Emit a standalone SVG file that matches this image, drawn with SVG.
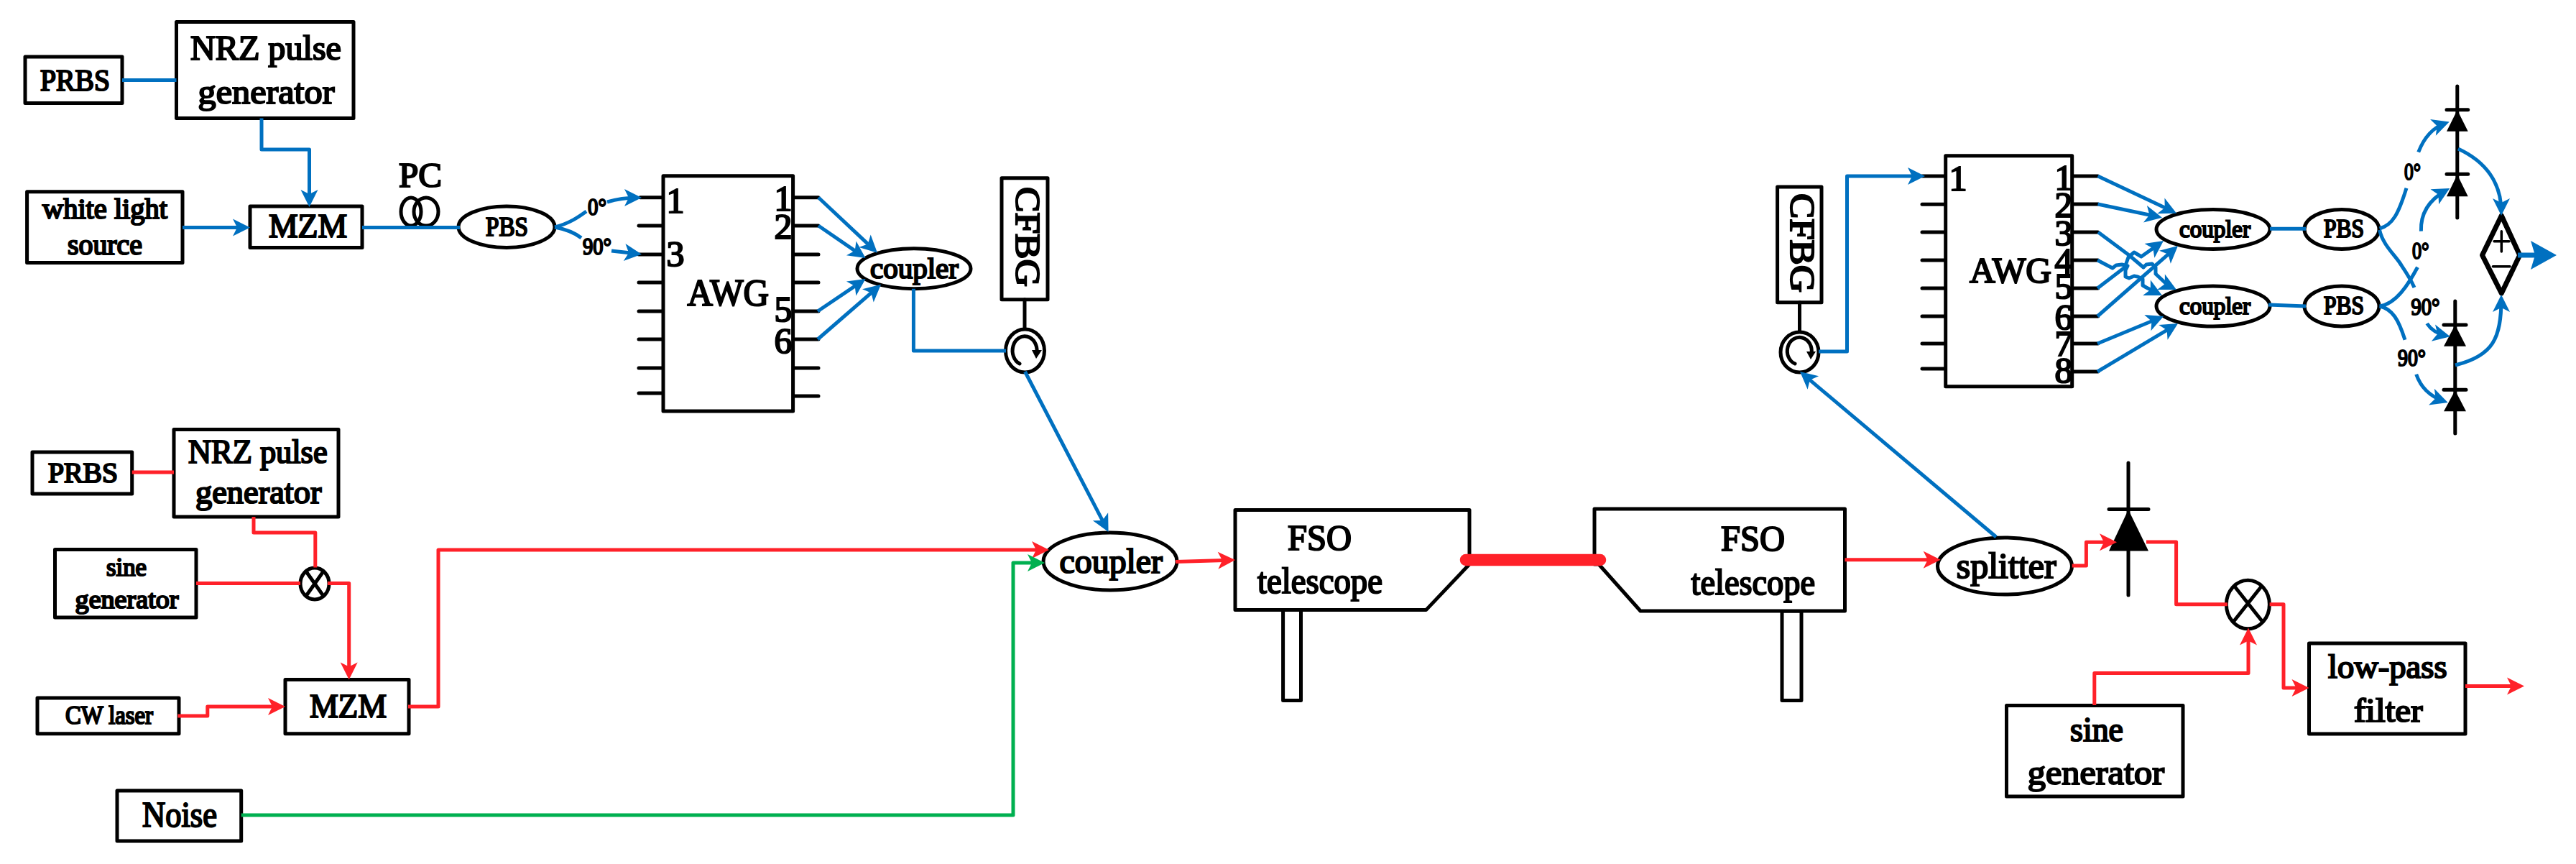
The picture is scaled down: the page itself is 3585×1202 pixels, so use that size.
<svg xmlns="http://www.w3.org/2000/svg" width="3585" height="1202" viewBox="0 0 3585 1202">
<style>
text{font-family:"Liberation Serif","Times New Roman",serif;font-weight:normal;fill:#000;stroke:#000;stroke-width:2.2}
.b{fill:#fff;stroke:#000;stroke-width:5;stroke-linejoin:round}
.k{fill:none;stroke:#000;stroke-width:5;stroke-linecap:round}
.f{fill:#000;stroke:none}
.cb,.cr,.cg{fill:none;stroke-width:5;stroke-linejoin:round}
.cb{stroke:#0070c0}.cr{stroke:#ff2129}.cg{stroke:#00b050}
.ab{marker-end:url(#ab)}.ar{marker-end:url(#ar)}.ag{marker-end:url(#ag)}
</style>
<defs>
<marker id="ab" markerUnits="userSpaceOnUse" markerWidth="30" markerHeight="30" refX="18" refY="12" orient="auto" overflow="visible"><path d="M0,0L24,12L0,24L6,12Z" fill="#0070c0"/></marker>
<marker id="ar" markerUnits="userSpaceOnUse" markerWidth="30" markerHeight="30" refX="18" refY="12" orient="auto" overflow="visible"><path d="M0,0L24,12L0,24L6,12Z" fill="#ff2129"/></marker>
<marker id="ag" markerUnits="userSpaceOnUse" markerWidth="30" markerHeight="30" refX="18" refY="12" orient="auto" overflow="visible"><path d="M0,0L24,12L0,24L6,12Z" fill="#00b050"/></marker>
<marker id="abig" markerUnits="userSpaceOnUse" markerWidth="44" markerHeight="44" refX="6" refY="20" orient="auto" overflow="visible"><path d="M0,0L36,20L0,40L6,20Z" fill="#0070c0"/></marker>
</defs>
<rect width="3585" height="1202" fill="#fff"/>

<g id="prbs1"><rect class="b" x="35" y="79" width="135" height="64.500"/><text x="56" y="126" font-size="42" textLength="97" lengthAdjust="spacingAndGlyphs">PRBS</text></g>
<g id="nrz1"><rect class="b" x="245.500" y="30.600" width="246.500" height="134"/><text x="265" y="83.400" font-size="49" textLength="210" lengthAdjust="spacingAndGlyphs">NRZ pulse</text><text x="275.500" y="143.500" font-size="49" textLength="190" lengthAdjust="spacingAndGlyphs">generator</text></g>
<g id="white"><rect class="b" x="37.600" y="266.700" width="216.400" height="98.800"/><text x="59" y="304" font-size="40" textLength="174" lengthAdjust="spacingAndGlyphs">white light</text><text x="94" y="354" font-size="40" textLength="104" lengthAdjust="spacingAndGlyphs">source</text></g>
<g id="mzm1"><rect class="b" x="348" y="287" width="156" height="57.400"/><text x="374" y="330" font-size="46" textLength="109" lengthAdjust="spacingAndGlyphs">MZM</text></g>
<g id="pc"><text x="555" y="260" font-size="49" textLength="60" lengthAdjust="spacingAndGlyphs">PC</text><ellipse class="k" cx="572" cy="294.500" rx="14" ry="19.500"/><ellipse class="k" cx="593" cy="294.500" rx="17" ry="19.500"/></g>
<g id="pbs0"><ellipse class="b" cx="705" cy="315.700" rx="67" ry="28.700"/><text x="676" y="328" font-size="37" textLength="59" lengthAdjust="spacingAndGlyphs">PBS</text></g>
<g id="lab0"><text x="818" y="298.500" font-size="34" textLength="26" lengthAdjust="spacingAndGlyphs">0°</text><text x="811" y="354" font-size="34" textLength="40" lengthAdjust="spacingAndGlyphs">90°</text></g>
<g id="awg1">
<path class="k" d="M891,274.700H923M889,314H923M889,354H923M889,393H923M889,433H923M889,472H923M889,512H923M889,547H923M1103.600,274.700H1139M1103.600,314H1139M1103.600,354H1139M1103.600,393H1139M1103.600,433H1139M1103.600,472H1139M1103.600,512H1139M1103.600,551H1139"/>
<rect class="b" x="923" y="244.700" width="180.600" height="327.300"/>
<text x="940" y="296" font-size="50" text-anchor="middle">1</text><text x="940" y="370" font-size="50" text-anchor="middle">3</text>
<text x="1090" y="293" font-size="50" text-anchor="middle">1</text><text x="1090" y="332" font-size="50" text-anchor="middle">2</text><text x="1090" y="447" font-size="50" text-anchor="middle">5</text><text x="1090" y="491" font-size="50" text-anchor="middle">6</text>
<text x="956.600" y="425" font-size="52" textLength="113.400" lengthAdjust="spacingAndGlyphs">AWG</text></g>
<g id="coupler1"><ellipse class="b" cx="1272" cy="373.700" rx="79" ry="28"/><text x="1211" y="387" font-size="40" textLength="123" lengthAdjust="spacingAndGlyphs">coupler</text></g>
<g id="cfbg1"><rect class="b" x="1394" y="247.700" width="64" height="169"/><text transform="translate(1413.800,260) rotate(90)" font-size="48" textLength="139" lengthAdjust="spacingAndGlyphs">CFBG</text><path class="k" d="M1426,416.700V458"/></g>
<g id="circ1"><ellipse class="b" cx="1426.500" cy="488" rx="27" ry="30"/><path class="k" d="M1419,506A17,20 0 1 1 1443,490"/><path class="f" d="M1436,487H1450L1442,499Z"/></g>

<g id="prbs2"><rect class="b" x="45" y="629" width="138.700" height="58"/><text x="67" y="671" font-size="39" textLength="97" lengthAdjust="spacingAndGlyphs">PRBS</text></g>
<g id="nrz2"><rect class="b" x="242" y="597.400" width="229" height="121.600"/><text x="262" y="644" font-size="46" textLength="193.600" lengthAdjust="spacingAndGlyphs">NRZ pulse</text><text x="272" y="699.800" font-size="46" textLength="175.400" lengthAdjust="spacingAndGlyphs">generator</text></g>
<g id="sine1"><rect class="b" x="76.500" y="764.600" width="196.500" height="94.400"/><text x="148" y="800.500" font-size="36" textLength="56" lengthAdjust="spacingAndGlyphs">sine</text><text x="104.600" y="846" font-size="36" textLength="143.900" lengthAdjust="spacingAndGlyphs">generator</text></g>
<g id="mixer1"><ellipse class="b" cx="438" cy="812" rx="20" ry="22"/><path class="k" d="M426,795L450,829M450,795L426,829"/></g>
<g id="cw"><rect class="b" x="52" y="971" width="197" height="49.700"/><text x="91" y="1007" font-size="35" textLength="122" lengthAdjust="spacingAndGlyphs">CW laser</text></g>
<g id="mzm2"><rect class="b" x="397" y="945.600" width="172" height="75.100"/><text x="431" y="998" font-size="47" textLength="107" lengthAdjust="spacingAndGlyphs">MZM</text></g>
<g id="noise"><rect class="b" x="163" y="1100" width="172.700" height="70"/><text x="198" y="1150" font-size="50" textLength="104" lengthAdjust="spacingAndGlyphs">Noise</text></g>
<g id="coupler2"><ellipse class="b" cx="1545" cy="781" rx="93" ry="40"/><text x="1474.600" y="797.400" font-size="48" textLength="143.400" lengthAdjust="spacingAndGlyphs">coupler</text></g>
<g id="tel1"><rect class="b" x="1785.600" y="848" width="24.900" height="126.600"/><path class="b" d="M1719,709.600H2045V785L1984.600,848.600H1719Z"/><text x="1792" y="764.700" font-size="51" textLength="89" lengthAdjust="spacingAndGlyphs">FSO</text><text x="1750" y="825" font-size="51" textLength="174" lengthAdjust="spacingAndGlyphs">telescope</text></g>
<g id="tel2"><rect class="b" x="2480" y="850" width="27" height="124.600"/><path class="b" d="M2219,708H2567.500V850H2283L2225,785H2219Z"/><text x="2395" y="766" font-size="51" textLength="89" lengthAdjust="spacingAndGlyphs">FSO</text><text x="2353.600" y="826.500" font-size="51" textLength="172.400" lengthAdjust="spacingAndGlyphs">telescope</text></g>
<g id="splitter"><ellipse class="b" cx="2790" cy="787.500" rx="93.500" ry="39.500"/><text x="2722.700" y="804" font-size="50" textLength="139" lengthAdjust="spacingAndGlyphs">splitter</text></g>
<g id="pd0"><path class="k" d="M2962,644V828M2935,708.600H2990"/><path class="f" d="M2962,709L2990,766.400H2935Z"/></g>
<g id="mixer2"><ellipse class="b" cx="3128.400" cy="841" rx="30" ry="33.700"/><path class="k" d="M3110,816L3148,864M3147,816L3109,864"/></g>
<g id="lpf"><rect class="b" x="3213.500" y="895" width="217.500" height="126"/><text x="3240" y="943" font-size="47" textLength="165.500" lengthAdjust="spacingAndGlyphs">low-pass</text><text x="3276" y="1004" font-size="47" textLength="95.500" lengthAdjust="spacingAndGlyphs">filter</text></g>
<g id="sine2"><rect class="b" x="2792.500" y="981.400" width="245.500" height="126.600"/><text x="2881" y="1030.700" font-size="48" textLength="74" lengthAdjust="spacingAndGlyphs">sine</text><text x="2821.700" y="1091" font-size="48" textLength="190.300" lengthAdjust="spacingAndGlyphs">generator</text></g>

<g id="cfbg2"><rect class="b" x="2473.600" y="260" width="61.400" height="160.700"/><text transform="translate(2492,269) rotate(90)" font-size="48" textLength="137.700" lengthAdjust="spacingAndGlyphs">CFBG</text><path class="k" d="M2504.500,420.700V461"/></g>
<g id="circ2"><ellipse class="b" cx="2504.500" cy="490" rx="26.500" ry="28"/><path class="k" d="M2498,506A17,19 0 1 1 2521,492"/><path class="f" d="M2514,489H2527L2520,500Z"/></g>
<g id="awg2">
<path class="k" d="M2675,245H2707.700M2675,284.300H2707.700M2675,323H2707.700M2675,362H2707.700M2675,401H2707.700M2675,440H2707.700M2675,478H2707.700M2675,513H2707.700M2883.700,245H2919.600M2883.700,284H2919.600M2883.700,323H2919.600M2883.700,362H2919.600M2883.700,401H2919.600M2883.700,440H2919.600M2883.700,478H2919.600M2883.700,517H2919.600"/>
<rect class="b" x="2707.700" y="216.700" width="176" height="321"/>
<text x="2725" y="265" font-size="50" text-anchor="middle">1</text>
<text x="2872" y="264" font-size="50" text-anchor="middle">1</text><text x="2872" y="302" font-size="50" text-anchor="middle">2</text><text x="2872" y="341" font-size="50" text-anchor="middle">3</text><text x="2872" y="380" font-size="50" text-anchor="middle">4</text><text x="2872" y="415" font-size="50" text-anchor="middle">5</text><text x="2872" y="458" font-size="50" text-anchor="middle">6</text><text x="2872" y="495" font-size="50" text-anchor="middle">7</text><text x="2872" y="531.700" font-size="50" text-anchor="middle">8</text>
<text x="2741" y="393" font-size="50" textLength="114" lengthAdjust="spacingAndGlyphs">AWG</text></g>
<g id="coupler3"><ellipse class="b" cx="3080" cy="319" rx="79" ry="27.500"/><text x="3033" y="330" font-size="34" textLength="99" lengthAdjust="spacingAndGlyphs">coupler</text></g>
<g id="coupler4"><ellipse class="b" cx="3080" cy="426" rx="79" ry="28"/><text x="3033" y="436.700" font-size="34" textLength="99" lengthAdjust="spacingAndGlyphs">coupler</text></g>
<g id="pbs1"><ellipse class="b" cx="3259" cy="319" rx="52" ry="27.500"/><text x="3234" y="330" font-size="35" textLength="56" lengthAdjust="spacingAndGlyphs">PBS</text></g>
<g id="pbs2"><ellipse class="b" cx="3259" cy="426" rx="52" ry="28"/><text x="3234" y="437" font-size="35" textLength="56" lengthAdjust="spacingAndGlyphs">PBS</text></g>
<g id="lab1"><text x="3346" y="250" font-size="34" textLength="23" lengthAdjust="spacingAndGlyphs">0°</text><text x="3357" y="360" font-size="34" textLength="23.600" lengthAdjust="spacingAndGlyphs">0°</text><text x="3355.600" y="437.700" font-size="34" textLength="39.900" lengthAdjust="spacingAndGlyphs">90°</text><text x="3337" y="509" font-size="34" textLength="39" lengthAdjust="spacingAndGlyphs">90°</text></g>
<g id="pd1"><path class="k" d="M3419.800,120V303M3405,152.700H3434.700M3405,242.300H3434.700"/><path class="f" d="M3419.800,153L3434.700,182.700H3405ZM3419.800,243L3434.700,273.300H3405Z"/></g>
<g id="pd2"><path class="k" d="M3416.800,419V603M3401,452H3432M3401,542.300H3432"/><path class="f" d="M3416.800,452L3432,481.700H3401ZM3416.800,543L3432,572.300H3401Z"/></g>
<g id="diff"><path d="M3481.300,300L3506.700,355L3481.300,408L3454.500,355Z" fill="#fff" stroke="#000" stroke-width="7" stroke-linejoin="round"/><path class="k" d="M3481.300,321.700V350M3471,335.700H3492M3469.400,370.700H3493" style="stroke-width:3.500"/></g>

<g id="connectors">
<path class="cb" d="M170,111.400H245.500"/>
<path class="cb ab" d="M364,164.600V208H430.500V282"/>
<path class="cb ab" d="M254,316.500H342"/>
<path class="cb" d="M504,316.500H640"/>
<path class="cb" d="M772,316C792,311 805,302 816,294"/>
<path class="cb" d="M772,316C788,319 800,324 809,331"/>
<path class="cb ab" d="M845,281Q865,275 887,275"/>
<path class="cb ab" d="M851,349L887,353"/>
<path class="cb ab" d="M1139,274.700L1216.600,347.600"/>
<path class="cb ab" d="M1139,314L1199.600,355.600"/>
<path class="cb ab" d="M1138,433L1199.600,391.400"/>
<path class="cb ab" d="M1138,472L1221.500,399.600"/>
<path class="cb" d="M1271.400,401.700V488H1400"/>
<path class="cb ab" d="M1426.500,517L1539.800,734.700"/>
<path class="cr" d="M183.700,657H242"/>
<path class="cr" d="M353,719V741H438.800V789.500"/>
<path class="cr" d="M273,811.600H418"/>
<path class="cr ar" d="M456,811.600H485.700V939.600"/>
<path class="cr ar" d="M247.400,996H288.800V983H391"/>
<path class="cr ar" d="M568,983H610V765H1454"/>
<path class="cg ag" d="M335.700,1134H1410V783H1448"/>
<path class="cr ar" d="M1636,781.500L1713,779.200"/>
<path d="M2040,779H2227" fill="none" stroke="#ff2129" stroke-width="16.500" stroke-linecap="round"/>
<path class="cr ar" d="M2567.500,778.800H2694.700"/>
<path class="cr ar" d="M2883.700,787H2903.400V754.300H2940"/>
<path class="cr" d="M2987,754H3028.600V840.700H3100"/>
<path class="cr ar" d="M3158.600,840.700H3178V957H3207.500"/>
<path class="cr ar" d="M3431,954.600H3507"/>
<path class="cr ar" d="M2914.800,981V936.400H3129V879.600"/>
<path class="cb ab" d="M2778,747L2509.600,520.900"/>
<path class="cb ab" d="M2531,489H2570.500V245H2673"/>
<path class="cb ab" d="M2919.600,245L3023.600,294.100"/>
<path class="cb ab" d="M2919.600,284L3003.100,301.500"/>
<path class="cb ab" d="M2920,323L2963,355L2983,372L2987,368L2995,367L3000,372V381L3017,397L3023.600,400.300"/>
<path class="cb ab" d="M2919,362L2940,373L2945,369L2953,368L2961,370L2958,376V385L2963,387L2970,384L2975,385L2982,388V397L2987,400L3003.600,408.300"/>
<path class="cb ab" d="M2919,401L2957,372L2962,358L2970,351L2980,357L3006.100,338.500"/>
<path class="cb ab" d="M2919,440L3026.500,345.900"/>
<path class="cb ab" d="M2919,478L3005.500,442.300"/>
<path class="cb ab" d="M2919,517L3025.900,453.100"/>
<path class="cb" d="M3159,318.300H3209"/>
<path class="cb" d="M3157,424L3209,426"/>
<path class="cb" d="M3311.600,318C3330,313 3338,297 3349,261.700"/>
<path class="cb" d="M3311.600,320C3316,340 3332,354 3340,366C3348,378 3355,388 3360,400"/>
<path class="cb" d="M3311.600,426C3335,423 3352,395 3364.500,371.700"/>
<path class="cb" d="M3311.600,426C3330,430 3338,445 3347,472.700"/>
<path class="cb ab" d="M3365.700,211.700Q3378,180 3403,171.500"/>
<path class="cb ab" d="M3369.400,321.700Q3368,285 3404,265"/>
<path class="cb ab" d="M3377.600,450Q3386,463 3404,467"/>
<path class="cb ab" d="M3362.700,520.700Q3372,548 3401,558"/>
<path class="cb ab" d="M3421,207C3460,225 3481,255 3481,294"/>
<path class="cb ab" d="M3417,508C3470,495 3481,470 3481,416"/>
<path d="M3504,355H3528" fill="none" stroke="#0070c0" stroke-width="7" marker-end="url(#abig)"/>
</g>
</svg>
